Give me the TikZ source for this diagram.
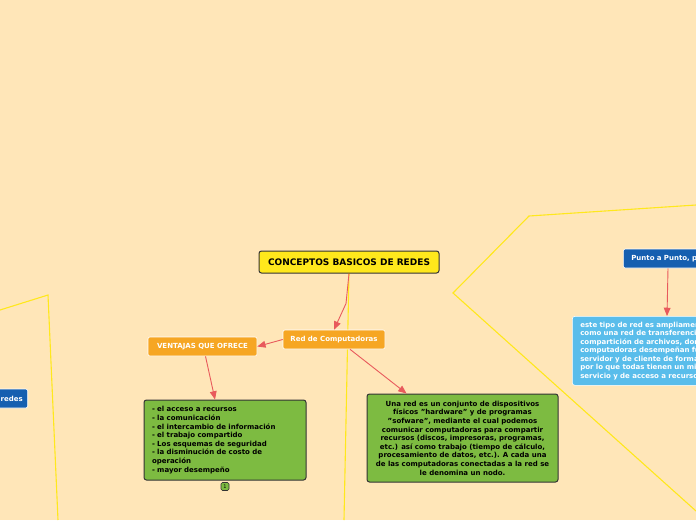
\documentclass[tikz,border=0pt]{standalone}
\usepackage{fontspec}
\setmainfont{DejaVu Sans}
\usepackage{xcolor}
\usetikzlibrary{arrows, positioning}

\definecolor{fondo}{HTML}{FFE6B8}
\definecolor{amarillo}{HTML}{FFE81C}
\definecolor{naranja}{HTML}{F6A623}
\definecolor{verde}{HTML}{7DBB41}
\definecolor{azul}{HTML}{155FB0}
\definecolor{celeste}{HTML}{59BDEB}
\definecolor{flecha}{HTML}{E85A5C}
\definecolor{borde}{HTML}{333333}

\begin{document}
\begin{tikzpicture}[x=1pt, y=-1pt,
  conn/.style={flecha, line width=0.9pt, -triangle 45},
  limite/.style={amarillo, line width=1.1pt},
  tema/.style={fill=naranja, draw=white, line width=0.6pt, rounded corners=2pt,
    text=white, font=\fontsize{7}{8.6}\selectfont\bfseries,
    minimum height=19pt, inner sep=0pt},
  nota/.style={fill=verde, draw=borde, line width=1pt, rounded corners=2.5pt,
    font=\fontsize{7}{8.6}\selectfont\bfseries, inner sep=0pt},
  rama/.style={fill=azul, draw=white, line width=0.6pt, rounded corners=2pt,
    text=white, font=\fontsize{7}{8.6}\selectfont\bfseries,
    minimum height=19pt, inner xsep=8pt, inner ysep=0pt}]
  \useasboundingbox (0,0) rectangle (696,520);
  \clip (0,0) rectangle (696,520);
  \fill[fondo] (0,0) rectangle (696,520);

  % limites amarillos
  \draw[limite] (349,273) -- (344,520);
  \draw[limite] (696,205) -- (529,216) -- (453,293) -- (696,511);
  \draw[limite] (0,310) -- (48,295) -- (58,520);

  \node[fill=amarillo, draw=borde, line width=1pt, rounded corners=2.5pt,
    minimum width=180pt, minimum height=22pt, inner sep=0pt,
    font=\fontsize{9}{10}\selectfont\bfseries] (titulo) at (349,262)
    {CONCEPTOS BASICOS DE REDES};

  \node[tema, minimum width=102pt] (red) at (334,339.5) {Red de Computadoras};
  \node[tema, minimum width=109pt] (ventajas) at (202.5,346.5) {VENTAJAS QUE OFRECE};

  \node[nota, minimum width=162pt, minimum height=80pt, text width=146pt,
    align=left] (lista) at (225,440)
    {- el acceso a recursos\\
     - la comunicación\\
     - el intercambio de información\\
     - el trabajo compartido\\
     - Los esquemas de seguridad\\
     - la disminución de costo de\\
     operación\\
     - mayor desempeño};
  \node[fill=verde, draw=borde, line width=0.6pt, rounded corners=1.5pt,
    minimum size=8pt, inner sep=0pt, font=\fontsize{5}{5}\selectfont] (cuenta)
    at (225,486.5) {1};

  \node[nota, minimum width=191pt, minimum height=88pt, align=center]
    (definicion) at (462.5,438)
    {Una red es un conjunto de dispositivos\\
     físicos "hardware" y de programas\\
     "sofware", mediante el cual podemos\\
     comunicar computadoras para compartir\\
     recursos (discos, impresoras, programas,\\
     etc.) así como trabajo (tiempo de cálculo,\\
     procesamiento de datos, etc.). A cada una\\
     de las computadoras conectadas a la red se\\
     le denomina un nodo.};

  \node[rama, anchor=west, text width=110pt, align=left] (punto) at (623,258.5)
    {Punto a Punto, p};
  \node[fill=celeste, draw=white, line width=0.6pt, rounded corners=2.5pt,
    anchor=north west, text width=180pt, align=left, text=white,
    minimum height=69pt, inner xsep=8pt, inner ysep=0pt,
    font=\fontsize{7}{8.5}\selectfont\bfseries] (tipo) at (572,316)
    {este tipo de red es ampliamente\\
     como una red de transferencia\\
     compartición de archivos, donde\\
     computadoras desempeñan funciones\\
     servidor y de cliente de forma\\
     por lo que todas tienen un mismo\\
     servicio y de acceso a recursos};

  \node[rama, anchor=east, text width=60pt, align=right, inner xsep=5pt]
    (redes) at (28,398.5) {redes};

  \draw[conn] (titulo.south) -- ++(-3,30) -- (red.north);
  \draw[conn] (red.west) -- (ventajas.east);
  \draw[conn] ([xshift=3pt]ventajas.south) -- ([xshift=-10pt]lista.north);
  \draw[conn] ([xshift=16pt]red.south) -- ([xshift=-56pt]definicion.north);
  \draw[conn] ([xshift=45pt]punto.south west) -- ([xshift=95pt]tipo.north west);
\end{tikzpicture}
\end{document}
